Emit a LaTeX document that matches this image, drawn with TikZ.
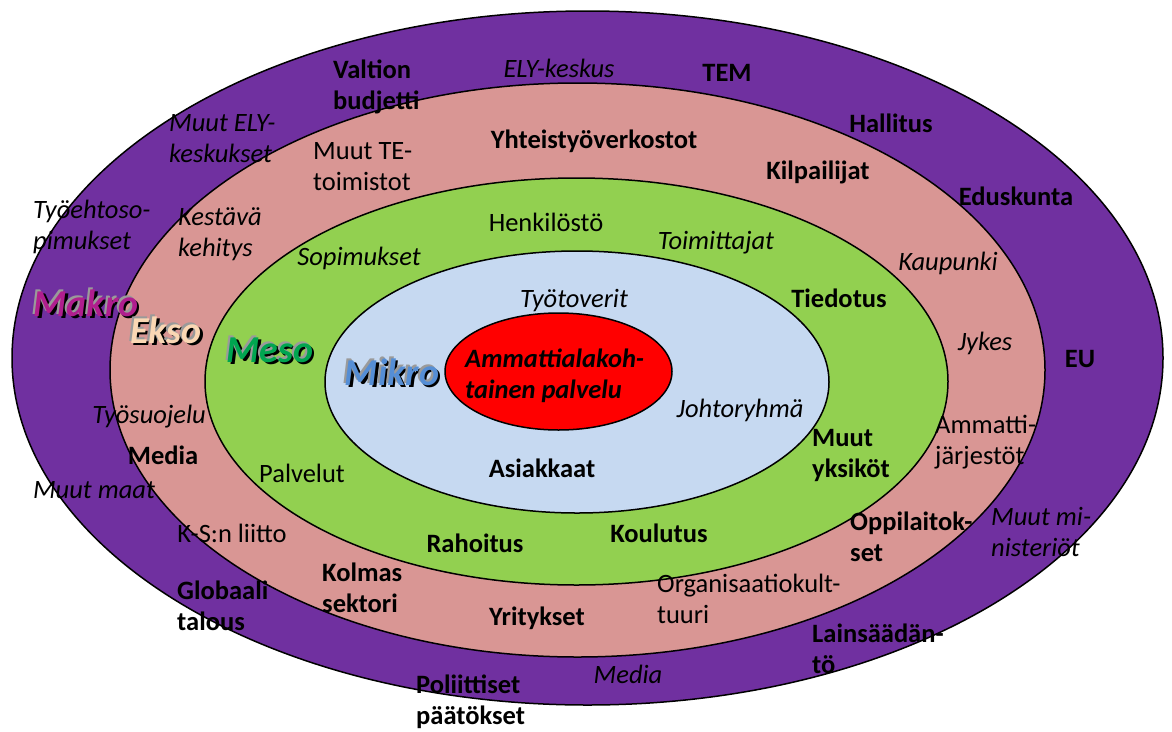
\documentclass[tikz,border=0pt]{standalone}
\usepackage{fontspec}
\setmainfont{Carlito}
\definecolor{ringpurple}{HTML}{7030A0}
\definecolor{ringpink}{HTML}{D99694}
\definecolor{ringgreen}{HTML}{92D050}
\definecolor{ringblue}{HTML}{C6D9F1}
\definecolor{corered}{HTML}{FF0000}
\definecolor{makrocol}{HTML}{B01E8E}
\definecolor{eksocol}{HTML}{FAD7B4}
\definecolor{mesocol}{HTML}{00A550}
\definecolor{mikrocol}{HTML}{558ED5}
\definecolor{shadgray}{HTML}{9A9A9A}
\newcommand\shadtxt[2]{\rlap{\kern2.5pt\raisebox{-2.5pt}{\color{black}#2}}\rlap{\kern-2pt\raisebox{2pt}{\color{shadgray}#2}}{\color{#1}#2}}
\tikzset{
  ring/.style={draw=black, line width=1.5pt},
  tx/.style={inner sep=0pt, align=left, font=\fontsize{26.5}{31}\selectfont},
  txb/.style={tx, font=\fontsize{26.5}{31}\selectfont\bfseries},
  txi/.style={tx, font=\fontsize{26.5}{31}\selectfont\itshape},
  txbi/.style={tx, font=\fontsize{26.5}{31}\selectfont\bfseries\itshape},
  layer/.style={inner sep=0pt, font=\fontsize{38}{44}\selectfont\bfseries\itshape},
}
\begin{document}
\begin{tikzpicture}[x=1pt, y=-1pt]
\useasboundingbox (0,0) rectangle (1172,731);
% rings
\draw[ring, fill=ringpurple] (587.5,358) ellipse [x radius=575.5pt, y radius=347pt];
\draw[ring, fill=ringpink] (577.5,370) ellipse [x radius=467.5pt, y radius=287pt];
\draw[ring, fill=ringgreen] (576.5,381.5) ellipse [x radius=371.5pt, y radius=203.5pt];
\draw[ring, fill=ringblue] (577,382) ellipse [x radius=252pt, y radius=131pt];
\draw[ring, fill=corered] (558.5,371.5) ellipse [x radius=113.5pt, y radius=58.5pt];
% purple ring texts (two-line nodes: base = last line)
\node[txb, anchor=base west] (valtion) at (333,109) {Valtion\\budjetti};
\node[txi, anchor=base] (ely) at (559,77) {ELY-keskus};
\node[txb, anchor=base] (tem) at (727,81) {TEM};
\node[txb, anchor=base] (hallitus) at (891,132) {Hallitus};
\node[txb, anchor=base] (eduskunta) at (1016,205) {Eduskunta};
\node[txb, anchor=base] (eu) at (1080,367) {EU};
\node[txi, anchor=base west] (muutmin) at (991,556) {Muut mi-\\nisteriöt};
\node[txb, anchor=base west] (lains) at (812,673) {Lainsäädän-\\tö};
\node[txi, anchor=base] (mediap) at (628,683) {Media};
\node[txb, anchor=base west] (poliit) at (416,724) {Poliittiset\\päätökset};
\node[txb, anchor=base west] (globaali) at (177,630) {Globaali\\talous};
\node[txi, anchor=base] (muutmaat) at (94,498) {Muut maat};
\node[txb, anchor=base] (mediab) at (163,464) {Media};
\node[txi, anchor=base west] (tyoehto) at (33,249) {Työehtoso-\\pimukset};
\node[txi, anchor=base west] (muutely) at (169,162) {Muut ELY-\\keskukset};
% pink ring texts
\node[tx, anchor=base west] (muutte) at (313,190) {Muut TE-\\toimistot};
\node[txb, anchor=base] (yhteis) at (594,148) {Yhteistyöverkostot};
\node[txb, anchor=base] (kilp) at (818,179) {Kilpailijat};
\node[txi, anchor=base] (kaupunki) at (948,270) {Kaupunki};
\node[txi, anchor=base] (jykes) at (985,350) {Jykes};
\node[tx, anchor=base west] (ammatti) at (935,464) {Ammatti-\\järjestöt};
\node[txb, anchor=base west] (oppil) at (850,561) {Oppilaitok-\\set};
\node[tx, anchor=base west] (orgkult) at (657,623) {Organisaatiokult-\\tuuri};
\node[txb, anchor=base] (yritykset) at (537,625) {Yritykset};
\node[txb, anchor=base west] (kolmas) at (322,612) {Kolmas\\sektori};
\node[tx, anchor=base] (ksn) at (232,542) {K-S:n liitto};
\node[txi, anchor=base] (tyosuojelu) at (149,423) {Työsuojelu};
\node[txi, anchor=base west] (kestava) at (178,256) {Kestävä\\kehitys};
% green ring texts
\node[tx, anchor=base] (henk) at (546,231) {Henkilöstö};
\node[txi, anchor=base] (toimitt) at (716,249) {Toimittajat};
\node[txi, anchor=base] (sopim) at (359,265) {Sopimukset};
\node[txb, anchor=base] (tiedotus) at (839,307) {Tiedotus};
\node[txb, anchor=base west] (muutyks) at (812,477) {Muut\\yksiköt};
\node[txb, anchor=base] (koulutus) at (659,542) {Koulutus};
\node[txb, anchor=base] (rahoitus) at (475,552) {Rahoitus};
\node[tx, anchor=base] (palvelut) at (302,482) {Palvelut};
% blue ring texts
\node[txi, anchor=base] (tyotov) at (574,307) {Työtoverit};
\node[txi, anchor=base] (johto) at (740,417) {Johtoryhmä};
\node[txb, anchor=base] (asiakkaat) at (542,477) {Asiakkaat};
% core
\node[txbi, anchor=base west] (core) at (465,398) {Ammattialakoh-\\tainen palvelu};
% layer labels
\node[layer, anchor=base] (makro) at (86,316) {\shadtxt{makrocol}{Makro}};
\node[layer, anchor=base] (ekso) at (166,343) {\shadtxt{eksocol}{Ekso}};
\node[layer, anchor=base] (meso) at (270,362) {\shadtxt{mesocol}{Meso}};
\node[layer, anchor=base] (mikro) at (392,385) {\shadtxt{mikrocol}{Mikro}};
\end{tikzpicture}
\end{document}
